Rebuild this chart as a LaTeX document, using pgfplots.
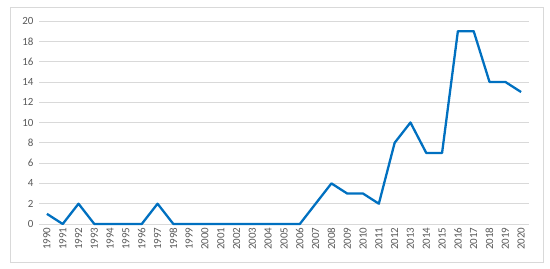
\documentclass[border=0pt]{standalone}
\usepackage{fontspec}
\setmainfont{Carlito}
\usepackage{pgfplots}
\pgfplotsset{compat=1.18}
\definecolor{xlblue}{HTML}{0070C0}
\definecolor{xlgrid}{HTML}{D9D9D9}
\definecolor{xltext}{HTML}{595959}
\definecolor{xlframe}{HTML}{D9D9D9}
\begin{document}
\begin{tikzpicture}[x=1bp,y=1bp]
\path[use as bounding box] (0,0) rectangle (550,268);
\draw[xlframe, line width=0.8bp] (10,6) rectangle (543,261);
\begin{axis}[
  at={(39bp,44bp)}, anchor=south west,
  width=490bp, height=203bp, scale only axis,
  xmin=1989.5, xmax=2020.5,
  ymin=0, ymax=20,
  xtick={1990,1991,...,2020},
  ytick={0,2,...,20},
  axis line style={draw=none},
  tick style={draw=none},
  ymajorgrids, major grid style={xlgrid, line width=0.8bp},
  ticklabel style={font=\fontsize{11}{13}\selectfont, text=xltext},
  /pgf/number format/assume math mode=true,
  /pgf/number format/set thousands separator={},
  x tick label style={rotate=90, anchor=east, yshift=0bp},
  yticklabel style={xshift=-2bp},
  clip=false,
]
\addplot[xlblue, line width=2.3pt, line join=round] coordinates {
  (1990,1) (1991,0) (1992,2) (1993,0) (1994,0) (1995,0) (1996,0) (1997,2)
  (1998,0) (1999,0) (2000,0) (2001,0) (2002,0) (2003,0) (2004,0) (2005,0)
  (2006,0) (2007,2) (2008,4) (2009,3) (2010,3) (2011,2) (2012,8) (2013,10)
  (2014,7) (2015,7) (2016,19) (2017,19) (2018,14) (2019,14) (2020,13)};
\end{axis}
\end{tikzpicture}
\end{document}
